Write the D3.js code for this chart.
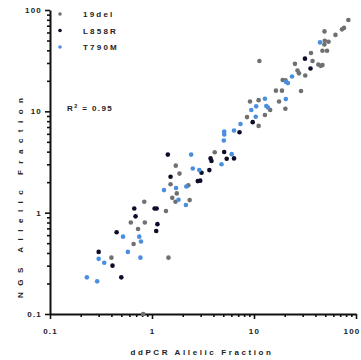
<!DOCTYPE html>
<html>
<head>
<meta charset="utf-8">
<script src="https://cdn.jsdelivr.net/npm/d3@7"></script>
<style>
html,body{margin:0;padding:0;background:#fff;}
svg{display:block;}
text{font-family:"Liberation Sans",Arial,sans-serif;font-weight:bold;fill:#222;}
</style>
</head>
<body>
<svg id="chart" width="361" height="360"></svg>
<script>
// ---- data ----
const seriesNames = ["19del", "L858R", "T790M"];
const seriesColors = ["#707070", "#0d0d2b", "#4a8ee0"];

const del19X = [0.82,0.84,1.37,0.62,0.85,0.73,0.66,0.40,1.45,1.71,1.86,1.52,2.27,1.75,1.58,1.70,2.34,4.12,8.54,11.1,12.8,9.14,11.1,14.4,17.6,20.3,16.4,18.8,28.9,19.1,26.7,27.6,31.8,25.2,36.2,37.5,42.7,45.1,46.9,11.3,49.0,53.8,49.4,46.9,52.0,49.1,62.9,72.9,76.3,84.1,20.4];
const del19Y = [0.10,1.28,1.04,0.80,0.80,0.69,0.49,0.36,0.36,2.91,2.43,1.91,1.86,1.55,1.40,1.28,1.33,3.95,8.77,7.18,9.21,12.5,12.9,10.3,12.5,10.6,16.0,16.0,15.9,20.4,25.3,23.7,22.6,29.4,37.7,31.4,29.0,28.1,28.6,31.4,45.7,48.6,49.8,39.6,39.6,61.5,56.8,64.4,66.6,79.8,20.2];

const l858rX = [0.67,1.06,1.11,0.69,1.13,1.10,0.45,0.30,0.41,0.50,1.43,1.52,2.81,2.97,3.06,3.65,3.75,3.83,5.10,5.40,6.37,7.21,9.71,31.6,35.8];
const l858rY = [1.10,1.10,1.10,0.92,0.77,0.66,0.64,0.41,0.30,0.23,3.74,2.26,2.05,2.07,2.48,2.63,3.43,3.24,3.97,3.41,3.43,6.22,7.82,33.1,26.5];

const t790mX = [0.23,0.29,0.30,0.34,0.52,0.58,0.75,0.78,0.77,1.31,1.72,2.17,1.82,2.15,2.42,2.51,2.91,4.80,6.04,5.10,5.11,5.06,6.37,7.37,10.4,9.41,10.5,13.2,13.7,12.8,20.5,23.6,20.6,21.5,44.4];
const t790mY = [0.23,0.21,0.35,0.32,0.58,0.41,0.58,0.52,0.36,1.67,1.75,1.81,1.34,1.19,3.74,2.73,2.63,3.00,3.78,6.33,5.92,5.16,6.48,7.51,8.85,10.3,11.2,11.3,10.9,13.3,13.2,22.1,19.5,19.0,47.9];

const majorTicks = [0.1, 1, 10, 100];
const tickLabels = ["0.1", "1", "10", "100"];
const xTitle = "ddPCR Allelic Fraction";
const yTitle = "NGS Allelic Fraction";
const r2Label = "0.95";

// ---- chart ----
const svg = d3.select("#chart");
const x = d3.scaleLog().domain([0.1, 100]).range([50, 356]);
const y = d3.scaleLog().domain([0.1, 100]).range([314, 10]);

const minorTicks = [];
[0.1, 1, 10].forEach(d => { for (let k = 2; k <= 9; k++) minorTicks.push(+(d * k).toPrecision(3)); });

const fmt = v => tickLabels[majorTicks.indexOf(v)];

// y axis
const yMajor = svg.append("g").attr("transform", "translate(50,0)")
  .call(d3.axisLeft(y).tickValues(majorTicks).tickFormat(fmt).tickSize(5).tickSizeOuter(0).tickPadding(3));
const yMinor = svg.append("g").attr("transform", "translate(50,0)")
  .call(d3.axisLeft(y).tickValues(minorTicks).tickFormat("").tickSize(3).tickSizeOuter(0));
// x axis
const xMajor = svg.append("g").attr("transform", "translate(0,314)")
  .call(d3.axisBottom(x).tickValues(majorTicks).tickFormat(fmt).tickSize(5).tickSizeOuter(0).tickPadding(9));
const xMinor = svg.append("g").attr("transform", "translate(0,314)")
  .call(d3.axisBottom(x).tickValues(minorTicks).tickFormat("").tickSize(3).tickSizeOuter(0));

[yMinor, xMinor].forEach(g => g.select(".domain").remove());
[yMajor, xMajor].forEach(g => g.select(".domain").attr("stroke", "#111").attr("stroke-width", 2));
svg.selectAll(".tick line").attr("stroke", "#111").attr("stroke-width", 1.6);
svg.selectAll(".tick text").attr("font-size", 8).attr("font-weight", "bold")
  .attr("letter-spacing", 1.2).attr("fill", "#333")
  .style("font-family", '"Liberation Sans",Arial,sans-serif');
// keep the last x label inside the frame
xMajor.selectAll(".tick text").filter(d => d === 100)
  .attr("text-anchor", "end").attr("x", 4);

// axis titles
svg.append("text").attr("x", 202).attr("y", 355).attr("text-anchor", "middle")
  .attr("font-size", 8).attr("letter-spacing", 2.6).attr("fill", "#333").text(xTitle);
svg.append("text").attr("transform", "translate(23,198) rotate(-90)").attr("text-anchor", "middle")
  .attr("font-size", 8).attr("fill", "#333")
  .attr("textLength", 200).attr("lengthAdjust", "spacing").text(yTitle);

// R^2 label
const rt = svg.append("text").attr("x", 67).attr("y", 111).attr("font-size", 8).attr("fill", "#333").attr("letter-spacing", 1.4);
rt.append("tspan").text("R");
rt.append("tspan").attr("dy", -3.5).attr("font-size", 5.5).text("2");
rt.append("tspan").attr("dy", 3.5).text(" = " + r2Label);

// points
const series = [
  {name: seriesNames[0], xs: del19X, ys: del19Y, color: seriesColors[0]},
  {name: seriesNames[1], xs: l858rX, ys: l858rY, color: seriesColors[1]},
  {name: seriesNames[2], xs: t790mX, ys: t790mY, color: seriesColors[2]}
];
const plot = svg.append("g");
series.forEach(s => {
  plot.selectAll(null).data(s.xs.map((v, i) => [v, s.ys[i]])).enter().append("circle")
    .attr("cx", d => x(d[0])).attr("cy", d => y(d[1])).attr("r", 2.3)
    .attr("fill", s.color);
});

// legend
const leg = svg.append("g");
series.forEach((s, i) => {
  const yy = 14 + i * 16.5;
  leg.append("circle").attr("cx", 60).attr("cy", yy).attr("r", 1.8).attr("fill", s.color);
  leg.append("text").attr("x", 83).attr("y", yy + 3).attr("font-size", 8)
    .attr("letter-spacing", 2.2).attr("fill", "#333").text(s.name);
});
</script>
</body>
</html>
